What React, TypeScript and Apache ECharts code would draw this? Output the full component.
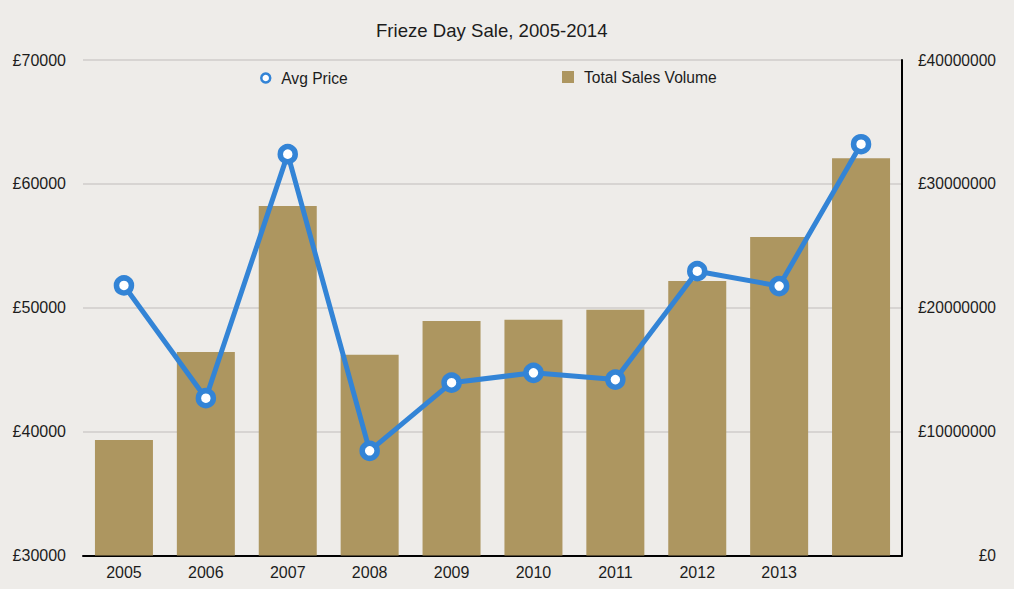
import React, { useEffect, useRef } from 'react';
import * as echarts from 'echarts';

// Frieze Day Sale, 2005-2014
const years = ['2005', '2006', '2007', '2008', '2009', '2010', '2011', '2012', '2013', '2014'];
// the last bar carries no tick label in the original
const yearLabels = ['2005', '2006', '2007', '2008', '2009', '2010', '2011', '2012', '2013', ''];
const avgPrice = [51800, 42700, 62400, 38450, 43950, 44750, 44200, 52950, 51750, 63200];
const totalSalesVolume = [
    9330000, 16420000, 28220000, 16200000, 18930000,
    19030000, 19840000, 22160000, 25710000, 32060000,
];
const priceTicks = { min: 30000, max: 70000, interval: 10000 };
const volumeTicks = { min: 0, max: 40000000, interval: 10000000 };

const FONT = '"Liberation Sans", Arial, Helvetica, sans-serif';
const BLUE = '#3384d6';
const TAN = '#ad9660';
const INK = '#1c1c1c';

const App: React.FC = () => {
    const chartRef = useRef<HTMLDivElement>(null);

    useEffect(() => {
        if (!chartRef.current) return;
        const chart = echarts.init(chartRef.current, undefined, { renderer: 'svg' });

        chart.setOption({
            animation: false,
            backgroundColor: '#eeece9',
            textStyle: { fontFamily: FONT },
            title: {
                text: 'Frieze Day Sale, 2005-2014',
                left: 376,
                top: 21,
                padding: 0,
                textStyle: { fontSize: 18.6, fontWeight: 'normal', color: INK, fontFamily: FONT },
            },
            legend: [
                {
                    data: ['Avg Price'],
                    left: 260,
                    top: 70,
                    padding: 0,
                    icon: 'circle',
                    itemWidth: 19,
                    itemHeight: 9,
                    itemStyle: { color: '#fff', borderColor: BLUE, borderWidth: 2.5 },
                    textStyle: { fontSize: 15.6, color: INK, fontFamily: FONT, padding: [0, 0, 0, 1] },
                },
                {
                    data: ['Total Sales Volume'],
                    left: 562,
                    top: 69,
                    padding: 0,
                    icon: 'rect',
                    itemWidth: 12,
                    itemHeight: 12,
                    textStyle: { fontSize: 15.6, color: INK, fontFamily: FONT, padding: [0, 0, 0, 5] },
                },
            ],
            grid: { left: 83, right: 112, top: 60, bottom: 33.5 },
            xAxis: {
                type: 'category',
                data: years,
                axisLine: { show: true, lineStyle: { color: '#000', width: 2 } },
                axisTick: { show: false },
                axisLabel: {
                    margin: 9,
                    fontSize: 16,
                    color: INK,
                    fontFamily: FONT,
                    interval: 0,
                    formatter: (_v: string, idx: number) => yearLabels[idx],
                },
            },
            yAxis: [
                {
                    type: 'value',
                    position: 'left',
                    ...priceTicks,
                    axisLine: { show: false },
                    axisTick: { show: false },
                    splitLine: { lineStyle: { color: '#cfcdca', width: 1.5 } },
                    axisLabel: {
                        margin: 17,
                        fontSize: 16,
                        color: INK,
                        fontFamily: FONT,
                        formatter: (v: number) => `£${v}`,
                    },
                },
                {
                    type: 'value',
                    position: 'right',
                    ...volumeTicks,
                    axisLine: { show: true, lineStyle: { color: '#000', width: 2 } },
                    axisTick: { show: false },
                    splitLine: { show: false },
                    axisLabel: {
                        margin: 94,
                        align: 'right',
                        fontSize: 15.6,
                        color: INK,
                        fontFamily: FONT,
                        formatter: (v: number) => `£${v}`,
                    },
                },
            ],
            series: [
                {
                    name: 'Total Sales Volume',
                    type: 'bar',
                    yAxisIndex: 1,
                    data: totalSalesVolume,
                    barWidth: 58,
                    itemStyle: { color: TAN },
                    z: 1,
                },
                {
                    name: 'Avg Price',
                    type: 'line',
                    yAxisIndex: 0,
                    data: avgPrice,
                    symbol: 'circle',
                    symbolSize: 15,
                    lineStyle: { color: BLUE, width: 5 },
                    itemStyle: { color: '#fff', borderColor: BLUE, borderWidth: 5.5 },
                    z: 3,
                },
            ],
        });

        return () => chart.dispose();
    }, []);

    return (
        <div
            ref={chartRef}
            style={{ position: 'fixed', left: 0, top: 0, width: 1014, height: 589 }}
        />
    );
};

export default App;
